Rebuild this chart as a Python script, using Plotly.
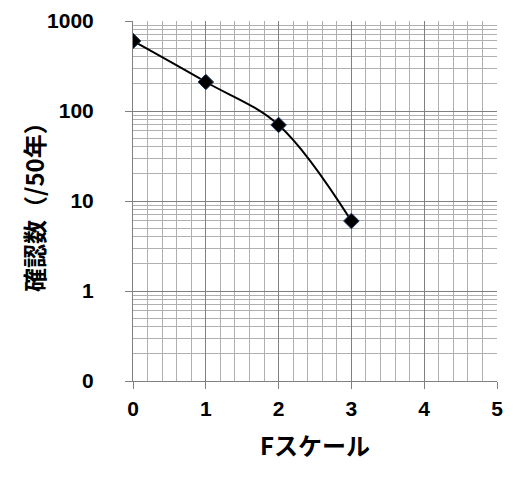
import plotly.graph_objects as go

f_scale = [0, 1, 2, 3]
counts = [600, 210, 70, 6]

x_ticks = [0, 1, 2, 3, 4, 5]
y_tickvals = [0.1, 1, 10, 100, 1000]
y_ticktext = ["0", "1", "10", "100", "1000"]

y_minor = [m * 10.0 ** e for e in range(-1, 3) for m in range(2, 10)]

fig = go.Figure()
fig.add_trace(go.Scatter(
    x=f_scale, y=counts, mode="lines+markers",
    line=dict(color="black", width=2, shape="spline", smoothing=1),
    marker=dict(symbol="diamond", size=12, color="black",
                line=dict(color="#1f3864", width=1)),
    showlegend=False,
))

font_num = dict(family="Liberation Sans, Arial, sans-serif", size=21, color="black", weight="bold")
font_jp = dict(family="Noto Sans CJK JP, sans-serif", size=24, color="black", weight="bold")

fig.update_layout(
    width=519, height=479,
    margin=dict(l=125, r=30, t=13, b=106, autoexpand=False),
    paper_bgcolor="white", plot_bgcolor="white",
    xaxis=dict(
        range=[0, 5], tickvals=x_ticks, tickfont=font_num,
        showgrid=True, gridcolor="#808080", gridwidth=1,
        showline=True, linecolor="#808080", linewidth=1,
        ticks="outside", ticklen=7, tickcolor="#808080",
        ticklabelstandoff=2,
        zeroline=False,
        minor=dict(dtick=0.2, showgrid=True, gridcolor="#b0b0b0", gridwidth=1, ticks=""),
        title=dict(text="Fスケール", font=font_jp, standoff=18),
    ),
    yaxis=dict(
        type="log", range=[-1, 3], tickvals=y_tickvals, ticktext=y_ticktext,
        tickfont=font_num,
        showgrid=True, gridcolor="#808080", gridwidth=1,
        showline=True, linecolor="#808080", linewidth=1,
        ticks="outside", ticklen=7, tickcolor="#808080",
        ticklabelstandoff=27,
        zeroline=False,
        minor=dict(tickvals=y_minor, showgrid=True, gridcolor="#b0b0b0", gridwidth=1, ticks=""),
    ),
    annotations=[dict(
        text="確認数（/50年）", font=font_jp, textangle=-90,
        xref="paper", yref="paper", x=-0.275, y=0.5,
        xanchor="center", yanchor="middle", showarrow=False,
    )],
)

fig.write_html("out.html")
